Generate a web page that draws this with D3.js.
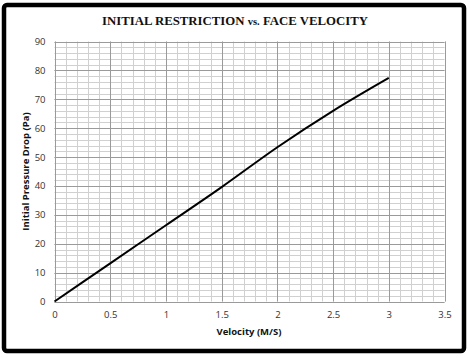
<!DOCTYPE html>
<html><head><meta charset="utf-8">
<script src="https://cdn.jsdelivr.net/npm/d3@7"></script>
<style>body{margin:0;background:#fff}svg{display:block}</style>
</head><body>
<svg id="c" width="470" height="358"></svg>
<script>
const velocity = [0, 0.5, 1, 1.5, 2, 2.5, 3];
const pressureDrop = [0, 13.2, 26.4, 39.6, 53.4, 66.0, 77.4];
const xTicks = [0, 0.5, 1, 1.5, 2, 2.5, 3, 3.5];
const yTicks = [0, 10, 20, 30, 40, 50, 60, 70, 80, 90];
const titleMain1 = "INITIAL RESTRICTION ";
const titleVs = "vs.";
const titleMain2 = " FACE VELOCITY";
const xLabel = "Velocity (M/S)";
const yLabel = "Initial Pressure Drop (Pa)";

const svg = d3.select("#c");
const L = 54.5, R = 444.5, T = 41.5, B = 301.5;
const x = d3.scaleLinear().domain([0, 3.5]).range([L, R]);
const y = d3.scaleLinear().domain([0, 90]).range([B, T]);

// frame
svg.append("rect").attr("x", 4).attr("y", 5).attr("width", 460).attr("height", 346)
  .attr("rx", 3).attr("fill", "#fff").attr("stroke", "#000").attr("stroke-width", 4.5);

// minor grid
const g = svg.append("g");
const xMinor = d3.range(0, 3.5001, 0.1);
const yMinor = d3.range(0, 90.001, 2);
g.selectAll(".xm").data(xMinor).join("line")
  .attr("x1", d => Math.round(x(d)) + 0.5).attr("x2", d => Math.round(x(d)) + 0.5)
  .attr("y1", T).attr("y2", B).attr("stroke", "#d0d0d0").attr("stroke-width", 1);
g.selectAll(".ym").data(yMinor).join("line")
  .attr("y1", d => Math.round(y(d)) + 0.5).attr("y2", d => Math.round(y(d)) + 0.5)
  .attr("x1", L).attr("x2", R).attr("stroke", "#d0d0d0").attr("stroke-width", 1);
// major grid
g.selectAll(".xM").data(xTicks).join("line")
  .attr("x1", d => Math.round(x(d)) + 0.5).attr("x2", d => Math.round(x(d)) + 0.5)
  .attr("y1", T).attr("y2", B).attr("stroke", "#9a9a9a").attr("stroke-width", 1);
g.selectAll(".yM").data(yTicks).join("line")
  .attr("y1", d => Math.round(y(d)) + 0.5).attr("y2", d => Math.round(y(d)) + 0.5)
  .attr("x1", L).attr("x2", R).attr("stroke", "#9a9a9a").attr("stroke-width", 1);

// axes labels via d3 axes
const xAxis = svg.append("g").attr("transform", `translate(0,${B})`)
  .call(d3.axisBottom(x).tickValues(xTicks).tickSize(0).tickPadding(10).tickFormat(d3.format("~g")));
const yAxis = svg.append("g").attr("transform", `translate(${L},0)`)
  .call(d3.axisLeft(y).tickValues(yTicks).tickSize(0).tickPadding(9).tickFormat(d3.format("~g")));
[xAxis, yAxis].forEach(a => {
  a.select(".domain").remove();
  a.selectAll("text").attr("font-family", "'Open Sans', sans-serif").attr("font-size", 9.5).attr("fill", "#333");
});

// line
svg.append("path").datum(velocity.map((v, i) => [v, pressureDrop[i]]))
  .attr("d", d3.line().curve(d3.curveMonotoneX).x(d => x(d[0])).y(d => y(d[1])))
  .attr("fill", "none").attr("stroke", "#000").attr("stroke-width", 2);

// title
const t = svg.append("text").attr("x", 235).attr("y", 25).attr("text-anchor", "middle")
  .attr("font-family", "'Liberation Serif', 'Times New Roman', serif").attr("font-weight", "bold")
  .attr("font-size", 12.8).attr("fill", "#111");
t.append("tspan").text(titleMain1);
t.append("tspan").attr("font-size", 10.5).text(titleVs);
t.append("tspan").text(titleMain2);

svg.append("text").attr("x", 249).attr("y", 335).attr("text-anchor", "middle")
  .attr("font-family", "'Open Sans', sans-serif").attr("font-weight", "bold").attr("font-size", 9.5)
  .attr("fill", "#111").text(xLabel);
svg.append("text").attr("transform", `translate(29,${(T + B) / 2}) rotate(-90)`).attr("text-anchor", "middle")
  .attr("font-family", "'Open Sans', sans-serif").attr("font-weight", "bold").attr("font-size", 9.5)
  .attr("fill", "#111").text(yLabel);
</script>
</body></html>
